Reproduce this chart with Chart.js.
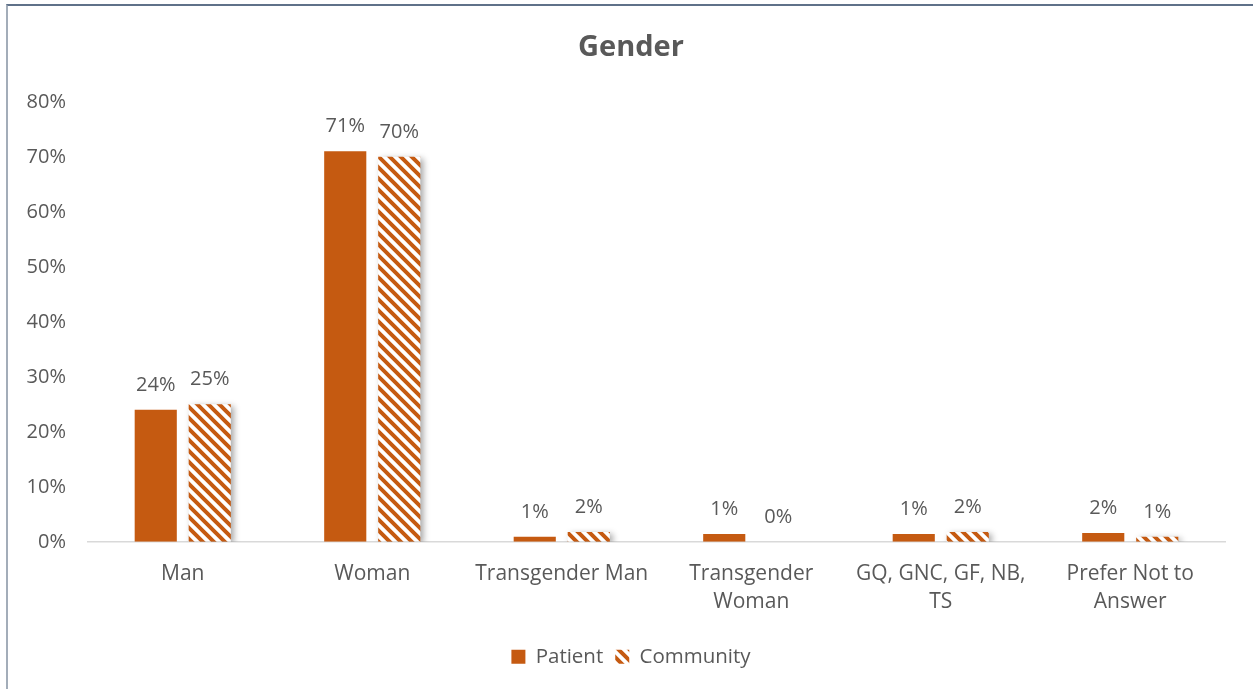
<!DOCTYPE html>
<html>
<head>
<meta charset="utf-8">
<script src="https://cdn.jsdelivr.net/npm/chart.js@4"></script>
<style>
  html, body { margin: 0; padding: 0; background: #fff; }
  #wrap {
    position: absolute; left: 6px; top: 4px; width: 1247px; height: 685px;
    border-top: 2px solid #5f7189; border-left: 2px solid #a3adb9;
    box-sizing: border-box;
  }
  #box { position: absolute; left: 0; top: 0; width: 1245px; height: 683px; }
</style>
</head>
<body>
<div id="wrap"><div id="box"><canvas id="genderChart"></canvas></div></div>
<script>
const categories = ['Man', 'Woman', 'Transgender Man', ['Transgender', 'Woman'], ['GQ, GNC, GF, NB,', 'TS'], ['Prefer Not to', 'Answer']];
const patientValues = [0.24, 0.71, 0.009, 0.014, 0.014, 0.016];
const communityValues = [0.25, 0.70, 0.018, 0.0, 0.018, 0.009];
const yTicks = [0, 0.1, 0.2, 0.3, 0.4, 0.5, 0.6, 0.7, 0.8];

const ORANGE = '#c55a11';
const TEXT = '#595959';
const FONT = "'Open Sans', 'Liberation Sans', sans-serif";

// diagonal "\" stripes for the community series
function stripePattern() {
  const s = 11;
  const c = document.createElement('canvas');
  c.width = s; c.height = s;
  const g = c.getContext('2d');
  g.fillStyle = '#fff';
  g.fillRect(0, 0, s, s);
  g.strokeStyle = ORANGE;
  g.lineWidth = 4;
  g.beginPath();
  g.moveTo(-s, 0); g.lineTo(s, 2 * s);
  g.moveTo(0, 0); g.lineTo(s, s);
  g.moveTo(0, -s); g.lineTo(2 * s, s);
  g.stroke();
  return g.createPattern(c, 'repeat');
}

const pattern = stripePattern();

// soft drop shadow behind the patterned bars
const barShadow = {
  id: 'barShadow',
  beforeDatasetDraw(chart, args) {
    if (args.index !== 1) return;
    const ctx = chart.ctx;
    ctx.save();
    ctx.shadowColor = 'rgba(0,0,0,0.35)';
    ctx.shadowBlur = 6;
    ctx.shadowOffsetX = 3;
    ctx.shadowOffsetY = 2;
  },
  afterDatasetDraw(chart, args) {
    if (args.index !== 1) return;
    chart.ctx.restore();
  }
};

// percentage labels above each bar
const valueLabels = {
  id: 'valueLabels',
  afterDatasetsDraw(chart) {
    const ctx = chart.ctx;
    ctx.save();
    ctx.fillStyle = TEXT;
    ctx.font = '20px ' + FONT;
    ctx.textAlign = 'center';
    ctx.textBaseline = 'middle';
    chart.data.datasets.forEach((ds, i) => {
      chart.getDatasetMeta(i).data.forEach((bar, j) => {
        const txt = Math.round(ds.data[j] * 100) + '%';
        ctx.fillText(txt, bar.x, bar.y - 25);
      });
    });
    ctx.restore();
  }
};

new Chart(document.getElementById('genderChart'), {
  type: 'bar',
  data: {
    labels: categories,
    datasets: [
      { label: 'Patient', data: patientValues, backgroundColor: ORANGE, borderWidth: 0 },
      { label: 'Community', data: communityValues, backgroundColor: pattern, borderWidth: 0 }
    ]
  },
  options: {
    responsive: true,
    maintainAspectRatio: false,
    animation: false,
    categoryPercentage: 0.57,
    barPercentage: 0.78,
    layout: { padding: { left: 29, right: 28, top: 8, bottom: 12 } },
    plugins: {
      title: {
        display: true, text: 'Gender', color: TEXT,
        font: { family: FONT, size: 29, weight: 'bold' },
        padding: { top: 16, bottom: 37 }
      },
      legend: {
        position: 'bottom',
        labels: {
          color: TEXT, boxWidth: 14, boxHeight: 14, padding: 12,
          font: { family: FONT, size: 20.5 }
        }
      },
      tooltip: { enabled: false }
    },
    scales: {
      x: {
        grid: { display: false, drawTicks: false },
        border: { color: '#d9d9d9', width: 1.5 },
        ticks: {
          color: TEXT, font: { family: FONT, size: 21, lineHeight: 1.35 },
          padding: 18, maxRotation: 0, autoSkip: false
        }
      },
      y: {
        min: 0, max: 0.8,
        afterBuildTicks(axis) { axis.ticks = yTicks.map(v => ({ value: v })); },
        afterFit(axis) {
          // narrow box so title and legend centre on the full frame; let labels overhang it
          axis.width = 51;
          axis._computeLabelArea = () => null;
        },
        grid: { display: false, drawTicks: false },
        border: { display: false },
        ticks: {
          color: TEXT, font: { family: FONT, size: 20 }, padding: 22,
          callback: v => Math.round(v * 100) + '%'
        }
      }
    }
  },
  plugins: [barShadow, valueLabels]
});
</script>
</body>
</html>
